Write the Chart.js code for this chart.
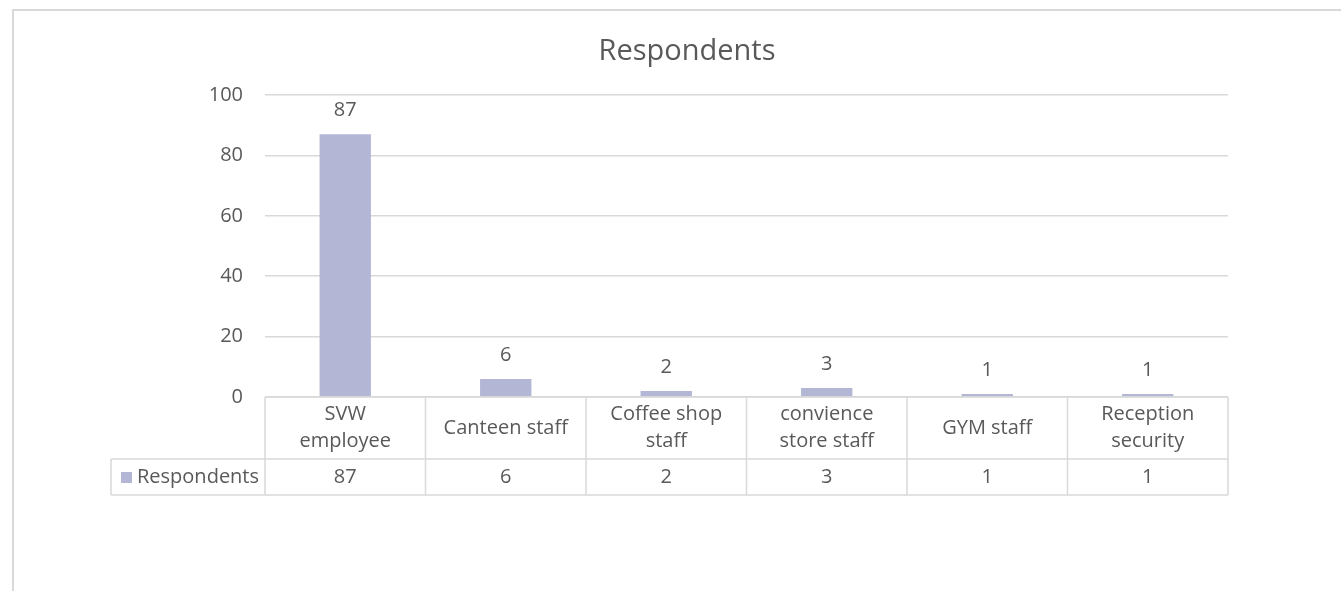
<!DOCTYPE html>
<html>
<head>
<meta charset="utf-8">
<script src="https://cdn.jsdelivr.net/npm/chart.js@4/dist/chart.umd.min.js"></script>
<style>
  body { margin: 0; background: #ffffff; }
  canvas { display: block; }
</style>
</head>
<body>
<canvas id="respChart" width="1341" height="591"></canvas>
<script>
const chartTitle = 'Respondents';
const seriesName = 'Respondents';
// category labels as they wrap in the data table
const categories = [
    ['SVW', 'employee'],
    ['Canteen staff'],
    ['Coffee shop', 'staff'],
    ['convience', 'store staff'],
    ['GYM staff'],
    ['Reception', 'security']
];
const respondents = [87, 6, 2, 3, 1, 1];
const yTicks = [0, 20, 40, 60, 80, 100];

const barColor = '#b4b6d6';
const lineColor = '#d9d9d9';
const textColor = '#595959';
const fontFamily = "'Open Sans', sans-serif";

Chart.defaults.font.family = fontFamily;
Chart.defaults.color = textColor;

// draws frame, title, value labels and the data table under the plot
const excelBits = {
    id: 'excelBits',
    beforeDraw(chart) {
        const ctx = chart.ctx;
        ctx.save();
        ctx.fillStyle = '#ffffff';
        ctx.fillRect(0, 0, chart.width, chart.height);
        ctx.strokeStyle = lineColor;
        ctx.lineWidth = 2;
        ctx.strokeRect(13, 10, 1400, 700);
        ctx.restore();
    },
    afterDraw(chart) {
        const ctx = chart.ctx;
        const area = chart.chartArea;
        const xs = chart.scales.x;
        const meta = chart.getDatasetMeta(0);
        ctx.save();

        // title
        ctx.fillStyle = textColor;
        ctx.textAlign = 'center';
        ctx.textBaseline = 'middle';
        ctx.font = '29px ' + fontFamily;
        ctx.fillText(chartTitle, 687, 52);

        // value labels above bars
        ctx.font = '20px ' + fontFamily;
        meta.data.forEach(function (bar, i) {
            ctx.fillText(String(respondents[i]), bar.x, bar.y - 24);
        });

        // data table
        const colW = (area.right - area.left) / categories.length;
        const headTop = area.bottom;
        const headBottom = headTop + 62;
        const rowBottom = headBottom + 36;
        const tableLeft = 111;

        ctx.strokeStyle = lineColor;
        ctx.lineWidth = 1.5;
        ctx.beginPath();
        ctx.moveTo(area.left, headTop);
        ctx.lineTo(area.right, headTop);
        ctx.moveTo(tableLeft, headBottom);
        ctx.lineTo(area.right, headBottom);
        ctx.moveTo(tableLeft, rowBottom);
        ctx.lineTo(area.right, rowBottom);
        ctx.moveTo(tableLeft, headBottom);
        ctx.lineTo(tableLeft, rowBottom);
        for (let i = 0; i <= categories.length; i++) {
            const x = area.left + i * colW;
            ctx.moveTo(x, headTop);
            ctx.lineTo(x, rowBottom);
        }
        ctx.stroke();

        ctx.fillStyle = textColor;
        ctx.font = '20px ' + fontFamily;
        const lineH = 27;
        categories.forEach(function (lines, i) {
            const cx = xs.getPixelForValue(i);
            const midY = (headTop + headBottom) / 2;
            const startY = midY - (lines.length - 1) * lineH / 2;
            lines.forEach(function (t, j) {
                ctx.fillText(t, cx, startY + j * lineH);
            });
            ctx.fillText(String(respondents[i]), cx, (headBottom + rowBottom) / 2);
        });

        // legend key cell
        const rowMid = (headBottom + rowBottom) / 2;
        ctx.fillStyle = barColor;
        ctx.fillRect(121, rowMid - 5, 11, 11);
        ctx.fillStyle = textColor;
        ctx.textAlign = 'left';
        ctx.fillText(seriesName, 137, rowMid);

        ctx.restore();
    }
};

new Chart(document.getElementById('respChart').getContext('2d'), {
    type: 'bar',
    data: {
        labels: categories,
        datasets: [{
            label: seriesName,
            data: respondents,
            backgroundColor: barColor,
            categoryPercentage: 1,
            barPercentage: 0.32
        }]
    },
    options: {
        responsive: false,
        animation: false,
        layout: {
            padding: { left: 0, right: 113, top: 95, bottom: 194 }
        },
        plugins: {
            legend: { display: false },
            title: { display: false },
            tooltip: { enabled: false }
        },
        scales: {
            x: {
                display: false
            },
            y: {
                min: 0,
                max: 100,
                afterFit: function (scale) {
                    scale.width = 265;
                },
                afterBuildTicks: function (scale) {
                    scale.ticks = yTicks.map(function (v) { return { value: v }; });
                },
                ticks: {
                    padding: 22,
                    color: textColor,
                    font: { size: 20, family: fontFamily }
                },
                grid: {
                    color: lineColor,
                    lineWidth: 1.5,
                    drawTicks: false
                },
                border: { display: false }
            }
        }
    },
    plugins: [excelBits]
});
</script>
</body>
</html>
